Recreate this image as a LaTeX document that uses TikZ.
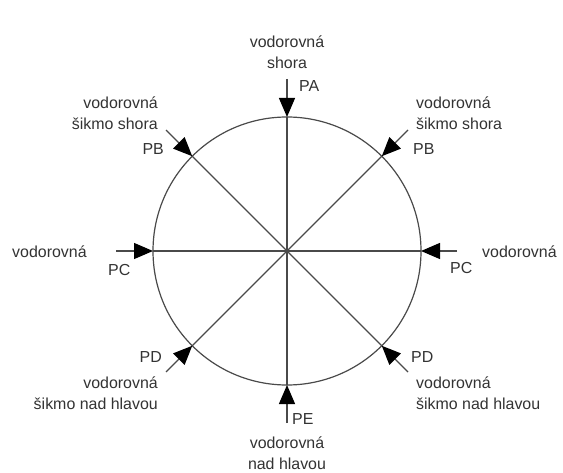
\documentclass[tikz,border=0pt]{standalone}
\usepackage{fontspec}
\setmainfont{Liberation Sans}
\usetikzlibrary{arrows.meta}
\definecolor{ln}{HTML}{4A4A4A}
\definecolor{tx}{HTML}{333333}
\begin{document}
\begin{tikzpicture}[x=1bp,y=-1bp,
  lbl/.style={inner sep=0pt,text=tx,font=\fontsize{16}{21}\selectfont},
  ray/.style={draw=ln,line width=1.1bp},
  inarrow/.style={draw=ln,line width=1.3bp,-{Triangle[length=19bp,width=16bp,color=black]}}]
\useasboundingbox[fill=white] (0,0) rectangle (563,473);
\coordinate (O) at (287,251);
\node[draw=ln,line width=1.2bp,circle,inner sep=0pt,outer sep=0pt,minimum size=268bp] (c) at (O) {};
% diameters
\draw[ray] (c.north) -- (c.south);
\draw[ray] (c.west) -- (c.east);
\draw[ray] (c.135) -- (c.-45);
\draw[ray] (c.45) -- (c.-135);
% outer start points
\coordinate (sA) at (287,79);
\coordinate (sE) at (287,423);
\coordinate (sW) at (116,251);
\coordinate (sO) at (457,251);
\coordinate (sNW) at (166,130);
\coordinate (sNE) at (408,130);
\coordinate (sSW) at (166,372);
\coordinate (sSE) at (408,372);
% arrows
\draw[inarrow] (sA) -- (c.north);
\draw[inarrow] (sE) -- (c.south);
\draw[inarrow] (sW) -- (c.west);
\draw[inarrow] (sO) -- (c.east);
\draw[inarrow] (sNW) -- (c.135);
\draw[inarrow] (sNE) -- (c.45);
\draw[inarrow] (sSW) -- (c.-135);
\draw[inarrow] (sSE) -- (c.-45);
% labels
\node[lbl,align=center] (tA) at (287,52) {vodorovná\\shora};
\node[lbl,anchor=west] (pA) at (299,86) {PA};
\node[lbl,align=right,anchor=east] (tNW) at (158,113) {vodorovná\\šikmo shora};
\node[lbl,anchor=east] (pNW) at (164,149) {PB};
\node[lbl,align=left,anchor=west] (tNE) at (416,113) {vodorovná\\šikmo shora};
\node[lbl,anchor=west] (pNE) at (413,149) {PB};
\node[lbl,anchor=west] (tW) at (12,252) {vodorovná};
\node[lbl,anchor=west] (pW) at (108,270) {PC};
\node[lbl,anchor=west] (pO) at (450,268) {PC};
\node[lbl,anchor=west] (tO) at (482,252) {vodorovná};
\node[lbl,anchor=east] (pSW) at (162,357) {PD};
\node[lbl,align=right,anchor=east] (tSW) at (158,393) {vodorovná\\šikmo nad hlavou};
\node[lbl,anchor=west] (pSE) at (411,357) {PD};
\node[lbl,align=left,anchor=west] (tSE) at (416,393) {vodorovná\\šikmo nad hlavou};
\node[lbl,anchor=west] (pE) at (292,419) {PE};
\node[lbl,align=center] (tE) at (287,453) {vodorovná\\nad hlavou};
\end{tikzpicture}
\end{document}
